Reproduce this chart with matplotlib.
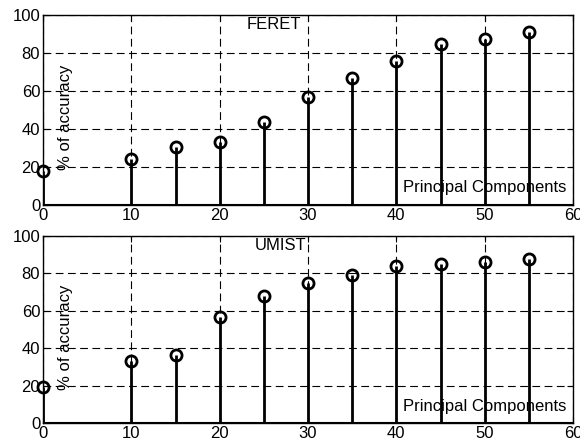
import matplotlib
matplotlib.use("Agg")
import matplotlib.pyplot as plt

plt.rcParams['font.family'] = ['Liberation Sans', 'DejaVu Sans']

components = [0, 10, 15, 20, 25, 30, 35, 40, 45, 50, 55]
feret_acc = [18, 24, 30.5, 33, 43.5, 57, 67, 76, 84.5, 87.5, 91]
umist_acc = [19.5, 33, 36.5, 57, 68, 75, 79, 84, 85.3, 86.2, 87.5]
x_ticks = [0, 10, 20, 30, 40, 50, 60]
y_ticks = [0, 20, 40, 60, 80, 100]
titles = ["FERET", "UMIST"]
title_x = [23, 24]

W, H = 580, 447
fig = plt.figure(figsize=(W / 100, H / 100), dpi=100)

axes_px = [(43, 15, 573, 205), (43, 236, 573, 423.3)]
datasets = [feret_acc, umist_acc]
FS = 12

for (l, t, r, b), vals, title, tx in zip(axes_px, datasets, titles, title_x):
    ax = fig.add_axes([l / W, (H - b) / H, (r - l) / W, (b - t) / H])
    ax.set_xlim(0, 60)
    ax.set_ylim(0, 100)
    ax.set_xticks(x_ticks)
    ax.set_yticks(y_ticks)
    ax.tick_params(direction='in', length=4, width=0.8, top=True, right=True,
                   labelsize=FS, colors='black', pad=2)
    for s in ax.spines.values():
        s.set_linewidth(1.0)
        s.set_color('black')
    ax.grid(True, color='black', linewidth=0.8, linestyle=(0, (7, 4)), zorder=0)
    ax.set_axisbelow(True)
    ax.text(tx, 98.8, title, fontsize=FS, ha='left', va='top', zorder=1)
    ax.text(2.5, 46, "% of accuracy", fontsize=FS, rotation=90,
            ha='center', va='center', zorder=1)
    ax.text(40.7, 9, "Principal Components", fontsize=FS, ha='left',
            va='center', zorder=1)
    ml, sl, bl = ax.stem(components, vals, linefmt='k-', markerfmt='ko', basefmt='k-')
    sl.set_linewidth(2.0)
    sl.set_zorder(3)
    ml.set_markerfacecolor('none')
    ml.set_markeredgecolor('black')
    ml.set_markersize(8)
    ml.set_markeredgewidth(2.0)
    ml.set_zorder(4)
    ml.set_clip_on(False)
    bl.set_linewidth(1.5)
    bl.set_xdata([0, 60])
    ax.set_xlim(0, 60)

fig.savefig("out.png", dpi=100)
